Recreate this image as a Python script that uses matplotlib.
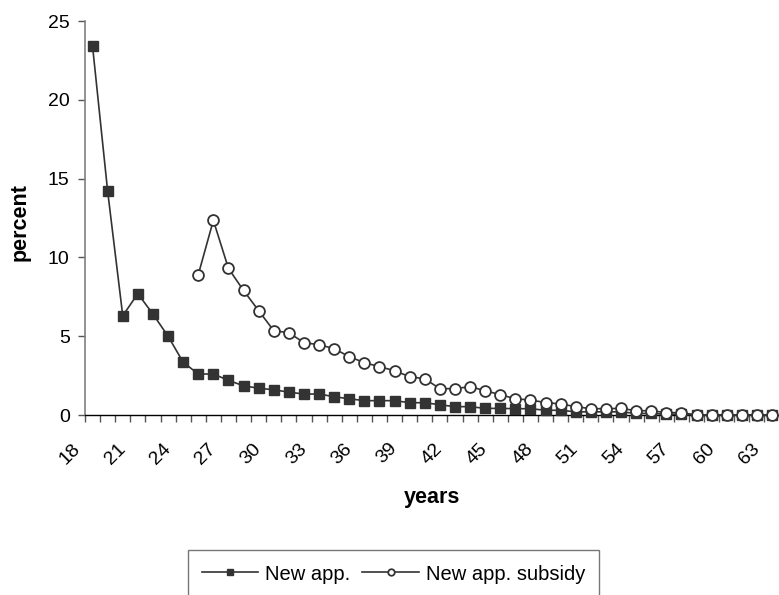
import numpy as np
import matplotlib
matplotlib.use("Agg")
import matplotlib.pyplot as plt
import matplotlib.transforms as mtransforms

plt.rcParams['font.family'] = ['Liberation Sans', 'DejaVu Sans']

ages = list(range(18, 64))
new_app = [23.4, 14.2, 6.3, 7.7, 6.4, 5.0, 3.35, 2.6, 2.6, 2.2, 1.85, 1.7, 1.6, 1.45, 1.33, 1.33,
           1.16, 1.03, 0.91, 0.91, 0.91, 0.78, 0.78, 0.65, 0.53, 0.53, 0.42, 0.42, 0.4, 0.4, 0.3,
           0.3, 0.2, 0.2, 0.2, 0.2, 0.1, 0.1, 0.05, 0.05, 0, 0, 0, 0, 0, 0]
subsidy = [None] * 7 + [8.9, 12.35, 9.3, 7.9, 6.62, 5.35, 5.22, 4.59, 4.46,
                        4.21, 3.70, 3.32, 3.07, 2.81, 2.43, 2.30, 1.67, 1.67, 1.80, 1.54, 1.29, 1.03, 0.95, 0.79,
                        0.70, 0.53, 0.40, 0.40, 0.42, 0.27, 0.27, 0.15, 0.15, 0, 0, 0, 0, 0, 0]
label_ages = list(range(18, 64, 3))
yticks = [0, 5, 10, 15, 20, 25]

W, H = 779, 595
fig = plt.figure(figsize=(W / 100, H / 100), dpi=100)
ax = fig.add_axes([85 / W, 1 - 415 / H, (779.6 - 85) / W, (415 - 21) / H])

idx = np.arange(len(ages))
sub = np.array([np.nan if v is None else v for v in subsidy], dtype=float)
dark = '#333333'
l1, = ax.plot(idx, new_app, color=dark, lw=1.2, marker='s', ms=7.5, mfc=dark, mec=dark,
              label='New app.', clip_on=False, zorder=3)
l2, = ax.plot(idx, sub, color=dark, lw=1.2, marker='o', ms=7.8, mfc='white', mec=dark, mew=1.3,
              label='New app. subsidy', clip_on=False, zorder=4)

ax.set_xlim(-0.5, len(ages) - 0.5)
ax.set_ylim(0, 25)
ax.set_yticks(yticks)
ax.set_yticklabels([str(v) for v in yticks], fontsize=14)
ax.set_xticks(np.arange(-0.5, len(ages), 1))
ax.set_xticklabels([])
ax.tick_params(axis='x', which='major', length=5, width=1, color='#555555', direction='out')
ax.tick_params(axis='y', length=5, width=1, color='#555555', pad=6)

# category labels, rotated, placed below the axis
base = mtransforms.blended_transform_factory(ax.transData, ax.transAxes)
off = mtransforms.ScaledTranslation(-21 / 100, -25 / 100, fig.dpi_scale_trans)
for a in label_ages:
    ax.text(ages.index(a), 0, str(a), transform=base + off, rotation=45,
            rotation_mode='anchor', ha='right', va='top', fontsize=14, clip_on=False)

for s in ['top', 'right']:
    ax.spines[s].set_visible(False)
ax.spines['left'].set_color('#808080')
ax.spines['left'].set_linewidth(1.2)
ax.spines['bottom'].set_color('black')
ax.spines['bottom'].set_linewidth(1.0)

fig.text(20 / W, 1 - 222 / H, 'percent', rotation=90, ha='center', va='center',
         fontsize=15.5, fontweight='bold')
fig.text(432 / W, 1 - 497 / H, 'years', ha='center', va='center',
         fontsize=15.5, fontweight='bold')

leg = fig.legend(handles=[l1, l2], loc='center', bbox_to_anchor=(393.5 / W, 1 - 574 / H),
                 ncol=2, fontsize=14.5, frameon=True, fancybox=False, handlelength=2.8,
                 handletextpad=0.35, columnspacing=0.6, markerscale=0.6, borderpad=0.7,
                 borderaxespad=0)
leg.get_frame().set_edgecolor('#555555')
leg.get_frame().set_linewidth(1.0)

fig.savefig('out.png', dpi=100)
